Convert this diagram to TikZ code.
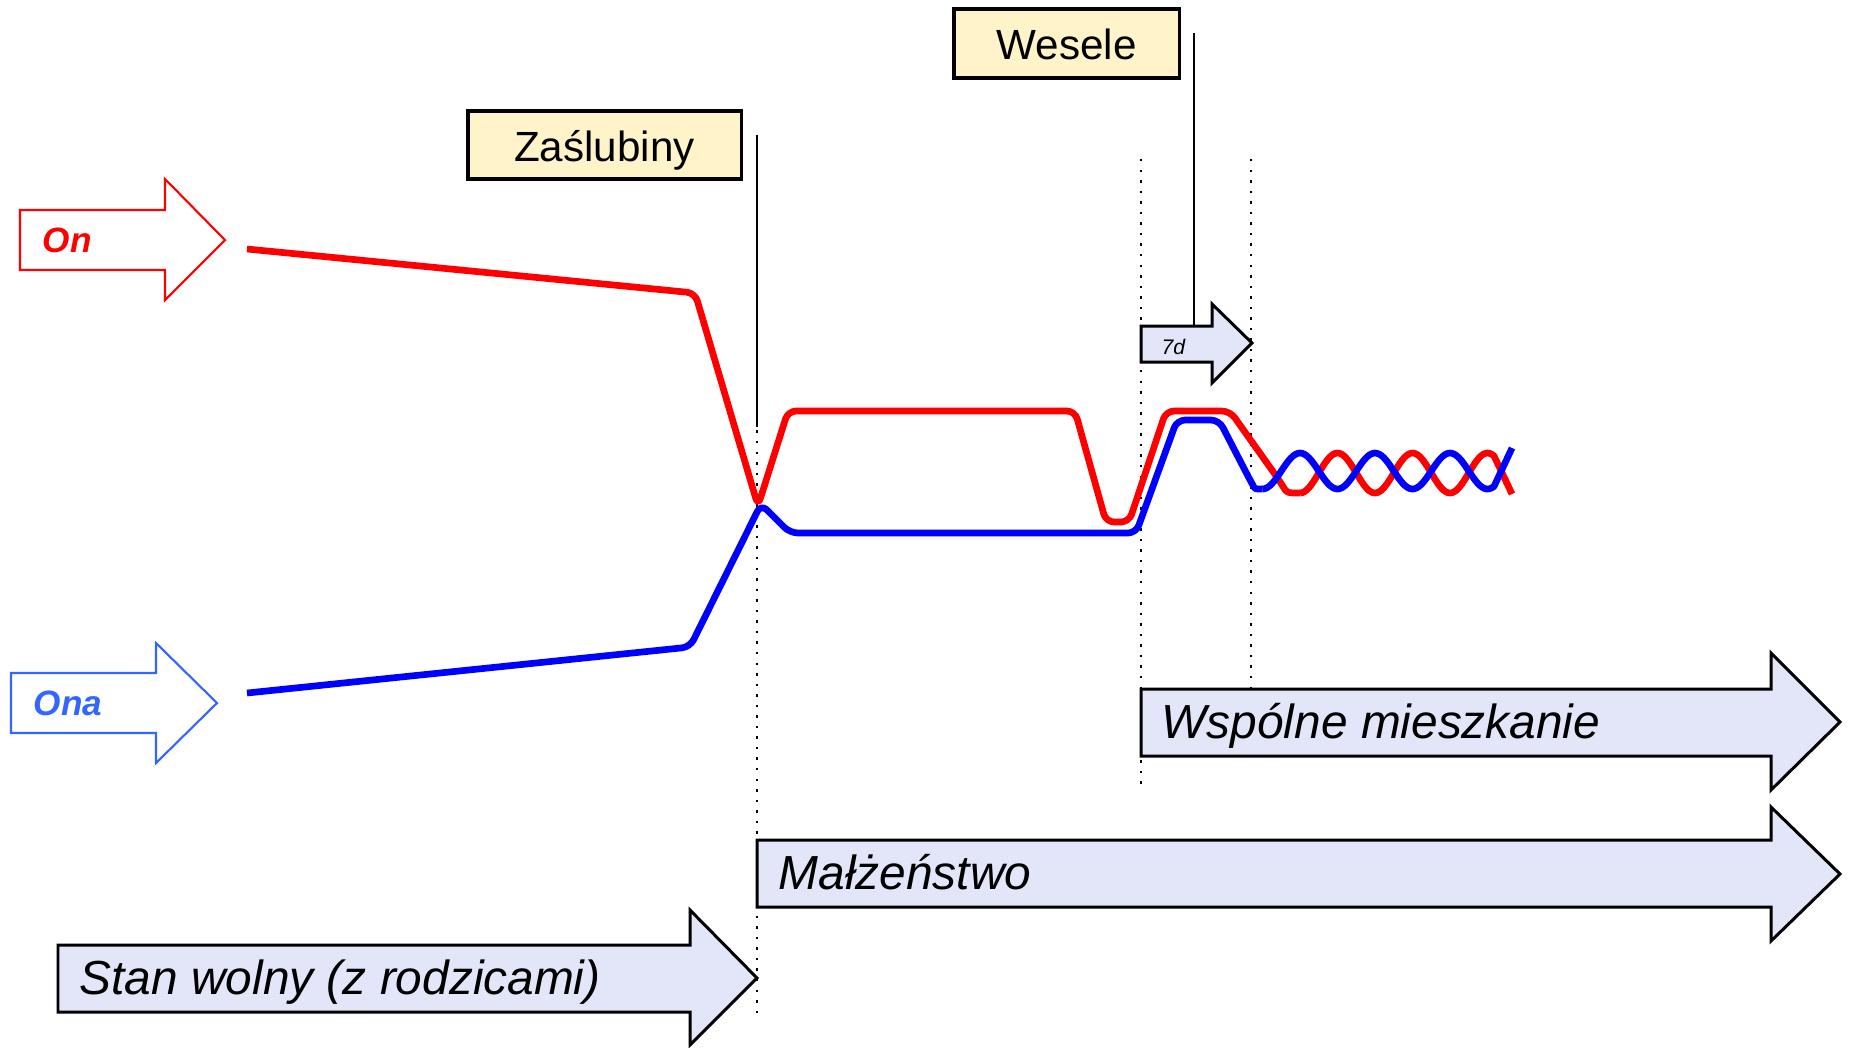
\documentclass[tikz,border=0pt]{standalone}
\usepackage{fontspec}
\setmainfont{Liberation Sans}
\usepackage{xcolor}
\usepackage{tikz}
\usetikzlibrary{positioning,calc}

\definecolor{boxyellow}{RGB}{255,243,201}
\definecolor{arrowfill}{RGB}{227,230,248}
\definecolor{onred}{RGB}{255,0,0}
\definecolor{onablue}{RGB}{51,102,255}

\tikzset{
  datebox/.style={draw=black, line width=0.9pt, fill=boxyellow, inner sep=0pt,
    text height=9.1pt, text depth=0pt, font=\fontsize{12}{14}\selectfont},
  phasearrow/.style={draw=black, line width=0.85pt, fill=arrowfill},
  phaselabel/.style={anchor=base west, inner sep=0pt, font=\fontsize{13.6}{16}\selectfont\itshape},
  personlabel/.style={anchor=base west, inner sep=0pt, font=\fontsize{10}{12}\selectfont\bfseries\itshape},
  lifeline/.style={line width=1.9pt, line join=round},
  timemark/.style={line width=0.75pt},
  dotmark/.style={line width=0.7pt, dash pattern=on 0.7pt off 2.3pt}
}

\begin{document}
\begin{tikzpicture}[x=0.01cm, y=-0.01cm]
    \useasboundingbox (0,0) rectangle (1849,1047);

    % Time marks
    \draw[dotmark] (757,135) -- (757,1015);
    \draw[dotmark] (1141,159) -- (1141,790);
    \draw[dotmark] (1251,159) -- (1251,689);
    \draw[timemark] (757,135) -- (757,427);
    \draw[timemark] (1194,33) -- (1194,326);

    % Events
    \node[datebox, minimum width=2.73cm, minimum height=0.68cm] (zaslubiny) at (604.5,145) {Zaślubiny};
    \node[datebox, minimum width=2.25cm, minimum height=0.69cm] (wesele) at (1066.5,43.5) {Wesele};

    % Persons
    \draw[draw=onred, line width=0.6pt, fill=white] (20,210) -- (165,210) -- (165,179) -- (225,240) -- (165,300) -- (165,270) -- (20,270) -- cycle;
    \node[personlabel, text=onred] (on) at (42,252) {On};
    \draw[draw=onablue, line width=0.6pt, fill=white] (11,673) -- (156,673) -- (156,643) -- (217,703) -- (156,763) -- (156,733) -- (11,733) -- cycle;
    \node[personlabel, text=onablue] (ona) at (33,715) {Ona};

    % Seven days
    \draw[phasearrow] (1141,326) -- (1212,326) -- (1212,304) -- (1252,343) -- (1212,383) -- (1212,362) -- (1141,362) -- cycle;
    \node[anchor=base west, inner sep=0pt, font=\fontsize{6}{7}\selectfont\itshape] (siedemdni) at (1161,354) {7d};

    % Phases
    \draw[phasearrow] (1141,689) -- (1771,689) -- (1771,653) -- (1840,722) -- (1771,790) -- (1771,756) -- (1141,756) -- cycle;
    \node[phaselabel] (wspolne) at (1161,738) {Wspólne mieszkanie};
    \draw[phasearrow] (757,840) -- (1771,840) -- (1771,807) -- (1840,874) -- (1771,941) -- (1771,907) -- (757,907) -- cycle;
    \node[phaselabel] (malzenstwo) at (778,889) {Małżeństwo};
    \draw[phasearrow] (58,945) -- (690,945) -- (690,910) -- (757,978) -- (690,1045) -- (690,1012) -- (58,1012) -- cycle;
    \node[phaselabel] (stanwolny) at (79,994) {Stan wolny (z rodzicami)};

    % Him
    \draw[lifeline, onred, rounded corners=2.3pt] (247,249) -- (695,293) -- (758,506) -- (788,411) -- (1075,411)
        -- (1106,522) -- (1129,522) -- (1166,411) -- (1230,411) -- (1279,480) .. controls (1287,493) .. (1300,493);
    \draw[lifeline, onred] plot[domain=1300:1494, samples=90] (\x, {473+20*cos(4.8*(\x-1300))}) -- (1512,494);

    % Her
    \draw[lifeline, blue, rounded corners=2.3pt] (247,693) -- (690,647) -- (761,504) -- (790,533) -- (1136,533)
        -- (1177,420) -- (1219,420) -- (1250,480) .. controls (1255,489) .. (1262.5,489);
    \draw[lifeline, blue] plot[domain=1262.5:1494, samples=100] (\x, {471-18*cos(4.8*(\x-1300))}) -- (1512,448);
\end{tikzpicture}
\end{document}
